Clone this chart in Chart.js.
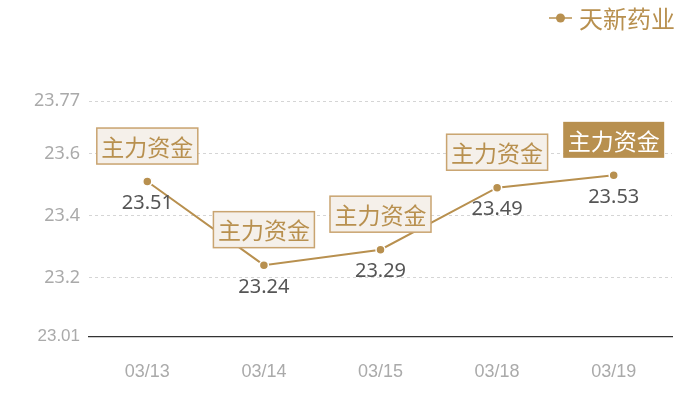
<!DOCTYPE html>
<html>
<head>
<meta charset="utf-8">
<script src="https://cdn.jsdelivr.net/npm/chart.js@4"></script>
<style>
html,body{margin:0;padding:0;background:#fff;}
#wrap{width:700px;height:400px;position:relative;}
</style>
</head>
<body>
<div id="wrap"><canvas id="c" width="700" height="400"></canvas></div>
<script>
const categories = ['03/13','03/14','03/15','03/18','03/19'];
const prices = [23.51, 23.24, 23.29, 23.49, 23.53];
const yTicks = [23.01, 23.2, 23.4, 23.6, 23.77];
const seriesName = '天新药业';
const markText = '主力资金';
const highlightIndex = 4;

const GOLD = '#b8904f';
const CJK = '"Noto Sans CJK SC", "Noto Sans", sans-serif';

const annot = {
  id: 'annot',
  afterDatasetsDraw(chart) {
    const ctx = chart.ctx;
    const meta = chart.getDatasetMeta(0);
    ctx.save();
    meta.data.forEach((pt, i) => {
      const x = pt.x, y = pt.y;
      // value label
      ctx.font = '20px "Noto Sans", sans-serif';
      ctx.fillStyle = '#555';
      ctx.textAlign = 'center';
      ctx.textBaseline = 'middle';
      ctx.fillText(prices[i].toFixed(2), x, y + 22);
      // box label
      ctx.font = '23px ' + CJK;
      const tw = ctx.measureText(markText).width;
      const w = tw + 9, h = 36;
      const bx = x - w / 2, by = y - 17.5 - h;
      if (i === highlightIndex) {
        ctx.fillStyle = GOLD;
        ctx.fillRect(bx, by, w, h);
        ctx.fillStyle = '#fff';
      } else {
        ctx.fillStyle = '#f5f0ea';
        ctx.fillRect(bx, by, w, h);
        ctx.strokeStyle = '#c9a470';
        ctx.lineWidth = 1.5;
        ctx.strokeRect(bx, by, w, h);
        ctx.fillStyle = GOLD;
      }
      ctx.fillText(markText, x, by + h / 2 + 1);
    });
    // legend
    const lx = 549, ly = 18;
    ctx.strokeStyle = GOLD;
    ctx.lineWidth = 1.5;
    ctx.beginPath(); ctx.moveTo(lx, ly); ctx.lineTo(lx + 23, ly); ctx.stroke();
    ctx.fillStyle = GOLD;
    ctx.beginPath(); ctx.arc(lx + 11.5, ly, 4.5, 0, Math.PI * 2); ctx.fill();
    ctx.font = '24px ' + CJK;
    ctx.textAlign = 'left';
    ctx.textBaseline = 'middle';
    ctx.fillText(seriesName, lx + 30, ly + 1);
    ctx.restore();
  }
};

new Chart(document.getElementById('c'), {
  type: 'line',
  data: {
    labels: categories,
    datasets: [{
      label: seriesName,
      data: prices,
      borderColor: GOLD,
      backgroundColor: GOLD,
      borderWidth: 2,
      pointRadius: 4.5,
      pointBorderColor: '#fff',
      pointBorderWidth: 1.5,
      pointBackgroundColor: GOLD,
      tension: 0
    }]
  },
  options: {
    responsive: false,
    animation: false,
    devicePixelRatio: 1,
    layout: { padding: { top: 101, right: 28, left: 25, bottom: 0 } },
    plugins: { legend: { display: false }, tooltip: { enabled: false } },
    scales: {
      x: {
        offset: true,
        grid: { display: false },
        border: { display: true, color: '#333', width: 1.2 },
        ticks: { color: '#aaa', font: { family: '"Liberation Sans Narrow", sans-serif', size: 18 }, padding: 17 }
      },
      y: {
        min: 23.01,
        max: 23.77,
        afterBuildTicks(scale) { scale.ticks = yTicks.map(v => ({ value: v })); },
        border: { display: false, dash: [3, 3] },
        grid: {
          drawTicks: false,
          color: ctx => (ctx.tick && ctx.tick.value === 23.01) ? 'rgba(0,0,0,0)' : '#d5d5d5',
          lineWidth: 1
        },
        ticks: {
          color: '#aaa',
          padding: 9,
          font: ctx => (ctx.tick && ctx.tick.value === 23.01)
            ? { family: '"Liberation Sans Narrow", sans-serif', size: 17 }
            : { family: '"Noto Sans", sans-serif', size: 18 },
          callback: v => String(v)
        }
      }
    }
  },
  plugins: [annot]
});
</script>
</body>
</html>
